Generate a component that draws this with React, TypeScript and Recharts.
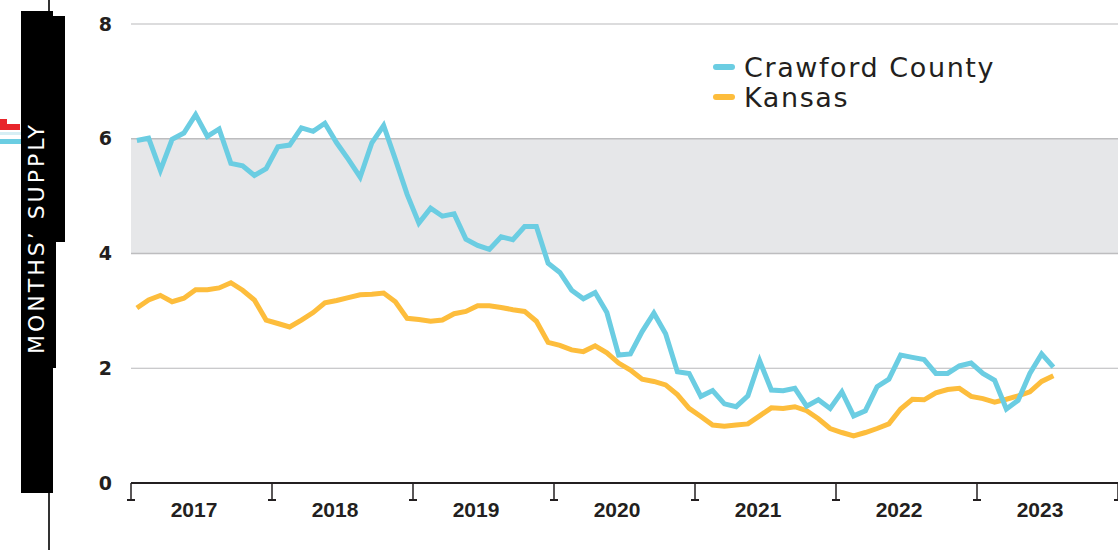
import React from 'react';
import { LineChart, Line, XAxis, YAxis, CartesianGrid, ReferenceArea, ReferenceLine } from 'recharts';

// monthly months' supply, Jan 2017 - Jul 2023
const crawford = [
  5.97, 6.01, 5.45, 5.99, 6.10, 6.42, 6.04, 6.17, 5.57, 5.53, 5.36, 5.48,
  5.86, 5.89, 6.19, 6.13, 6.27, 5.93, 5.64, 5.33, 5.93, 6.23, 5.64, 5.03,
  4.53, 4.79, 4.65, 4.69, 4.25, 4.14, 4.07, 4.29, 4.24, 4.47, 4.47, 3.83,
  3.67, 3.36, 3.21, 3.32, 2.97, 2.23, 2.25, 2.64, 2.96, 2.60, 1.94, 1.91,
  1.51, 1.61, 1.38, 1.33, 1.52, 2.13, 1.62, 1.61, 1.65, 1.34, 1.45, 1.30,
  1.59, 1.17, 1.26, 1.68, 1.81, 2.23, 2.19, 2.15, 1.91, 1.91, 2.04, 2.09,
  1.91, 1.79, 1.29, 1.44, 1.91, 2.25, 2.02,
];
const kansas = [
  3.05, 3.19, 3.27, 3.16, 3.22, 3.37, 3.37, 3.40, 3.49, 3.36, 3.19, 2.84,
  2.78, 2.72, 2.84, 2.97, 3.14, 3.18, 3.23, 3.28, 3.29, 3.31, 3.16, 2.87,
  2.85, 2.82, 2.84, 2.95, 2.99, 3.09, 3.09, 3.06, 3.02, 2.99, 2.82, 2.45,
  2.40, 2.32, 2.29, 2.39, 2.27, 2.09, 1.97, 1.81, 1.77, 1.71, 1.54, 1.30,
  1.16, 1.01, 0.99, 1.01, 1.03, 1.17, 1.31, 1.30, 1.33, 1.26, 1.12, 0.95,
  0.88, 0.82, 0.88, 0.95, 1.03, 1.29, 1.46, 1.45, 1.57, 1.63, 1.65, 1.51,
  1.47, 1.41, 1.46, 1.52, 1.59, 1.77, 1.87,
];
const years = ['2017', '2018', '2019', '2020', '2021', '2022', '2023'];
const yTicks = [0, 2, 4, 6, 8];
const seriesNames = ['Crawford County', 'Kansas'];

const CYAN = '#6bcde2';
const YELLOW = '#fdbd3c';
const INK = '#231f20';

const W = 1118;
const H = 550;
const PLOT_LEFT = 131;
const MONTHS = years.length * 12;

const data = crawford.map((v, i) => ({ m: i + 0.5, crawford: v, kansas: kansas[i] }));
const xTicks = years.map((_, i) => i * 12).concat([MONTHS]);

const YearTick = (props: any) => {
  const { x, y, payload } = props;
  const idx = payload.value / 12;
  return (
    <g>
      <line x1={x} x2={x} y1={y} y2={y + 17} stroke={INK} strokeWidth={1.5} />
      <line x1={x - 4} x2={x + 4} y1={y + 17} y2={y + 17} stroke={INK} strokeWidth={2} />
      {idx < years.length && (
        <text
          x={x + 63}
          y={y + 34}
          textAnchor="middle"
          fontFamily="Liberation Sans, Arial, sans-serif"
          fontWeight={700}
          fontSize={21}
          fill={INK}
        >
          {years[idx]}
        </text>
      )}
    </g>
  );
};

const App = () => {
  return (
    <div style={{ position: 'absolute', left: 0, top: 0, width: W, height: H, background: '#fff', overflow: 'hidden' }}>
      <LineChart width={W} height={H} data={data} margin={{ top: 24, right: 0, bottom: 27, left: 0 }}>
        <CartesianGrid horizontal vertical={false} stroke="#b9b9bb" strokeWidth={1.2} />
        <ReferenceArea y1={4} y2={6} fill="#e6e7e9" fillOpacity={1} stroke="none" ifOverflow="hidden" />
        <ReferenceLine y={4} stroke="#bdbdbf" strokeWidth={1.5} />
        <ReferenceLine y={6} stroke="#bdbdbf" strokeWidth={1.5} />
        <XAxis
          dataKey="m"
          type="number"
          domain={[0, MONTHS]}
          ticks={xTicks}
          height={40}
          axisLine={{ stroke: INK, strokeWidth: 2 }}
          tickLine={false}
          tickSize={0}
          tickMargin={0}
          tick={<YearTick />}
          interval={0}
        />
        <YAxis
          domain={[0, 8]}
          ticks={yTicks}
          width={PLOT_LEFT}
          axisLine={false}
          tickLine={false}
          tickSize={0}
          tickMargin={19}
          tick={{ fill: INK, fontSize: 19, fontWeight: 700, fontFamily: 'DejaVu Sans, sans-serif' }}
        />
        <Line
          dataKey="kansas"
          name={seriesNames[1]}
          stroke={YELLOW}
          strokeWidth={5}
          dot={false}
          isAnimationActive={false}
        />
        <Line
          dataKey="crawford"
          name={seriesNames[0]}
          stroke={CYAN}
          strokeWidth={5}
          dot={false}
          isAnimationActive={false}
        />
      </LineChart>

      {/* legend */}
      <div style={{ position: 'absolute', left: 713, top: 52, fontFamily: 'DejaVu Sans, sans-serif', fontSize: 27, color: INK, letterSpacing: 1.6 }}>
        {[CYAN, YELLOW].map((c, i) => (
          <div key={i} style={{ display: 'flex', alignItems: 'center', height: 30 }}>
            <span style={{ display: 'inline-block', width: 22, height: 6, borderRadius: 3, background: c, marginRight: 9 }} />
            <span>{seriesNames[i]}</span>
          </div>
        ))}
      </div>

      {/* cropped left panel with vertical axis title */}
      <div style={{ position: 'absolute', left: 48, top: 0, width: 2, height: H, background: '#333' }} />
      <div style={{ position: 'absolute', left: 21, top: 11, width: 32, height: 482, background: '#000' }} />
      <div style={{ position: 'absolute', left: 21, top: 16, width: 44, height: 226, background: '#000' }} />
      <div style={{ position: 'absolute', left: 21, top: 242, width: 35, height: 126, background: '#000' }} />
      <div style={{ position: 'absolute', left: 0, top: 119, width: 7, height: 6, background: '#e8262b' }} />
      <div style={{ position: 'absolute', left: 0, top: 124, width: 20, height: 6, background: '#e8262b' }} />
      <div style={{ position: 'absolute', left: 0, top: 132, width: 21, height: 3, background: '#d6eff5' }} />
      <div style={{ position: 'absolute', left: 0, top: 139, width: 21, height: 5, background: CYAN }} />
      <div
        style={{
          position: 'absolute',
          left: 36,
          top: 238,
          transform: 'translate(-50%, -50%) rotate(-90deg)',
          whiteSpace: 'nowrap',
          color: '#fff',
          fontFamily: 'DejaVu Sans, sans-serif',
          fontSize: 22,
          letterSpacing: 3,
        }}
      >
        MONTHS’ SUPPLY
      </div>
    </div>
  );
};

export default App;
